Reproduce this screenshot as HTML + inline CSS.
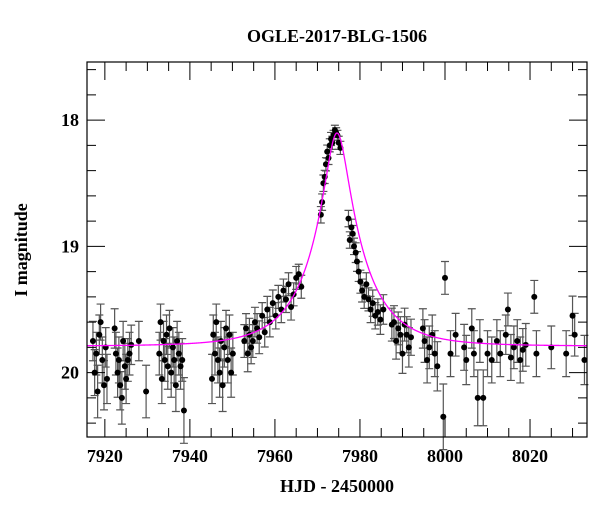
<!DOCTYPE html>
<html><head><meta charset="utf-8"><style>
body{margin:0;background:#fff}
svg text{font-family:"Liberation Serif",serif;fill:#000;font-weight:600}
</style></head><body>
<svg id="c" width="600" height="512">
<text x="337" y="42" font-size="18" text-anchor="middle">OGLE-2017-BLG-1506</text>
<text x="337" y="492" font-size="18" text-anchor="middle">HJD - 2450000</text>
<text x="27" y="250" font-size="18" text-anchor="middle" transform="rotate(-90 27 250)">I magnitude</text>
<g id="plot"></g>
</svg>
<script>
const times=[7917.2,7917.6,7918.0,7918.3,7918.7,7919.0,7919.4,7919.8,7920.2,7920.5,
7922.3,7922.6,7923.0,7923.3,7923.6,7924.0,7924.3,7924.7,7925.0,7925.4,7925.8,7926.2,7928.0,7929.7,
7932.8,7933.1,7933.4,7933.8,7934.1,7934.5,7934.8,7935.2,7935.6,7936.0,7936.3,7936.7,7937.0,7937.4,7937.8,7938.2,7938.6,
7945.2,7945.5,7945.9,7946.2,7946.6,7947.0,7947.3,7947.7,7948.1,7948.5,7948.9,7949.3,7949.7,7950.1,
7952.8,7953.2,7953.6,7954.0,7954.4,7954.8,7955.3,7955.8,7956.3,7957.0,7957.6,7958.2,7958.8,
7959.5,7960.2,7960.8,7961.5,7962.0,7962.6,7963.2,7963.8,7964.4,7965.0,7965.6,7966.2,
7970.8,7971.1,7971.4,7971.7,7972.0,7972.3,7972.6,7972.9,7973.2,7973.5,7973.8,7974.1,7974.4,7974.7,7975.0,7975.4,
7977.3,7977.6,7978.0,7978.3,7978.6,7979.0,7979.3,7979.7,7980.1,7980.5,7981.0,7981.5,7982.0,7982.5,7983.0,7983.6,7984.2,7984.8,7985.5,
7987.5,7988.0,7988.5,7989.0,7989.5,7990.0,7990.5,7991.0,7991.5,7992.0,
7994.8,7995.2,7995.8,7996.3,7997.0,7997.6,7998.2,7999.6,8000.0,8001.3,8002.5,
8004.5,8005.0,8006.3,8006.8,8007.7,8008.2,8009.0,8010.0,8011.0,8012.2,8013.0,
8014.3,8014.8,8015.5,8016.2,8017.0,8017.7,8018.3,8019.0,8021.0,8021.5,8025.0,8028.5,8030.0,8030.5,8032.8];
const mags=[19.75,20.0,19.85,20.15,19.7,19.6,19.9,20.1,19.8,20.05,
19.65,19.85,20.0,19.9,20.1,20.2,19.75,19.95,20.05,19.9,19.85,19.78,19.75,20.15,
19.85,19.6,20.05,19.75,19.9,19.7,19.95,19.65,20.0,19.8,19.9,20.1,19.75,19.85,19.95,19.9,20.3,
20.05,19.7,19.85,19.6,19.9,20.0,19.75,20.1,19.8,19.65,19.9,19.7,20.0,19.85,
19.75,19.65,19.85,19.7,19.8,19.75,19.6,19.65,19.72,19.55,19.68,19.5,19.6,
19.45,19.55,19.4,19.5,19.35,19.42,19.3,19.48,19.38,19.25,19.22,19.32,
18.75,18.65,18.5,18.45,18.35,18.25,18.3,18.2,18.15,18.18,18.12,18.08,18.1,18.12,18.18,18.22,
18.78,18.95,18.85,18.9,19.0,19.05,19.12,19.2,19.28,19.35,19.4,19.3,19.42,19.5,19.45,19.55,19.52,19.58,19.5,
19.62,19.6,19.75,19.65,19.7,19.85,19.62,19.7,19.8,19.72,
19.65,19.75,19.9,19.8,19.7,19.85,19.95,20.35,19.25,19.85,19.7,
19.8,19.9,19.65,19.85,20.2,19.75,20.2,19.85,19.9,19.75,19.85,
19.7,19.5,19.88,19.8,19.75,19.9,19.82,19.78,19.4,19.85,19.8,19.85,19.55,19.7,19.9];
const errs=[0.12,0.14,0.13,0.16,0.12,0.11,0.14,0.15,0.12,0.15,
0.12,0.13,0.15,0.14,0.15,0.16,0.12,0.14,0.15,0.13,0.13,0.12,0.12,0.16,
0.13,0.11,0.15,0.12,0.13,0.12,0.14,0.11,0.15,0.12,0.14,0.16,0.12,0.13,0.14,0.13,0.2,
0.15,0.12,0.13,0.11,0.14,0.15,0.12,0.16,0.12,0.11,0.14,0.12,0.15,0.13,
0.1,0.09,0.11,0.1,0.1,0.1,0.09,0.09,0.1,0.08,0.09,0.08,0.09,
0.08,0.08,0.07,0.08,0.07,0.08,0.07,0.08,0.07,0.07,0.06,0.07,
0.05,0.05,0.05,0.04,0.04,0.04,0.04,0.04,0.04,0.04,0.03,0.03,0.03,0.03,0.04,0.04,
0.05,0.05,0.05,0.05,0.05,0.06,0.06,0.06,0.07,0.07,0.07,0.07,0.07,0.08,0.08,0.08,0.08,0.09,0.09,
0.1,0.1,0.11,0.1,0.11,0.12,0.1,0.11,0.12,0.11,
0.12,0.13,0.14,0.13,0.12,0.14,0.15,0.2,0.1,0.14,0.13,
0.14,0.15,0.12,0.14,0.17,0.13,0.17,0.14,0.14,0.13,0.14,
0.12,0.1,0.14,0.13,0.13,0.14,0.13,0.13,0.1,0.14,0.13,0.14,0.12,0.13,0.15];
const xTicks=[7920,7940,7960,7980,8000,8020];
const yTicks=[18,19,20];
const model={t0:7974.6,u0:0.215,tE:12,base:19.79};

const L=87,R=587,T=62,B=437,X0=7915.8,X1=8033.4,Y0=17.54,Y1=20.51;
const sx=t=>L+(t-X0)/(X1-X0)*(R-L);
const sy=m=>T+(m-Y0)/(Y1-Y0)*(B-T);
const NS='http://www.w3.org/2000/svg';
const g=document.getElementById('plot');
function mk(tag,attrs){const e=document.createElementNS(NS,tag);for(const k in attrs)e.setAttribute(k,attrs[k]);g.appendChild(e);return e;}

for(let i=0;i<times.length;i++){
  const e=errs[i]*1.3;
  const x=sx(times[i]),y1=sy(mags[i]-e),y2=sy(mags[i]+e);
  const eb=mk('path',{d:`M${x},${y1}V${y2}M${x-4},${y1}h8M${x-4},${y2}h8`,stroke:'#555','stroke-width':1.2,fill:'none'});
  
  
}
for(let i=0;i<times.length;i++){
  const p=mk('circle',{cx:sx(times[i]),cy:sy(mags[i]),r:3,fill:'#000'});
  
  
}
let d='';
for(let t=X0;t<=X1;t+=0.1){
  const u=Math.sqrt(model.u0*model.u0+Math.pow((t-model.t0)/model.tE,2));
  const A=(u*u+2)/(u*Math.sqrt(u*u+4));
  const m=model.base-2.5*Math.log10(A);
  d+=(d?'L':'M')+sx(t).toFixed(2)+','+sy(m).toFixed(2);
}
const mc=mk('path',{d:d,stroke:'#ff00ff','stroke-width':1.3,fill:'none'});



const fr=mk('rect',{x:L,y:T,width:R-L,height:B-T,fill:'none',stroke:'#000','stroke-width':1.2});



for(let t=Math.ceil(X0/5)*5;t<=X1;t+=5){
  const maj=t%20===0, len=maj?18:9, x=sx(t);
  const tk=mk('path',{d:`M${x},${B}v${-len}M${x},${T}v${len}`,stroke:'#000','stroke-width':1});
  
  
}
xTicks.forEach(v=>{
  const tx=mk('text',{x:sx(v),y:B+25,'font-size':18,'text-anchor':'middle'});
  tx.textContent=v;
  
  
});
for(let k=Math.ceil(Y0*5);k<=Y1*5;k++){
  const m=k/5, maj=k%5===0, len=maj?18:9, y=sy(m);
  const tk=mk('path',{d:`M${L},${y}h${len}M${R},${y}h${-len}`,stroke:'#000','stroke-width':1});
  
  
}
yTicks.forEach(v=>{
  const tx=mk('text',{x:L-8,y:sy(v)+6,'font-size':18,'text-anchor':'end'});
  tx.textContent=v;
  
  
});
</script>
</body></html>
